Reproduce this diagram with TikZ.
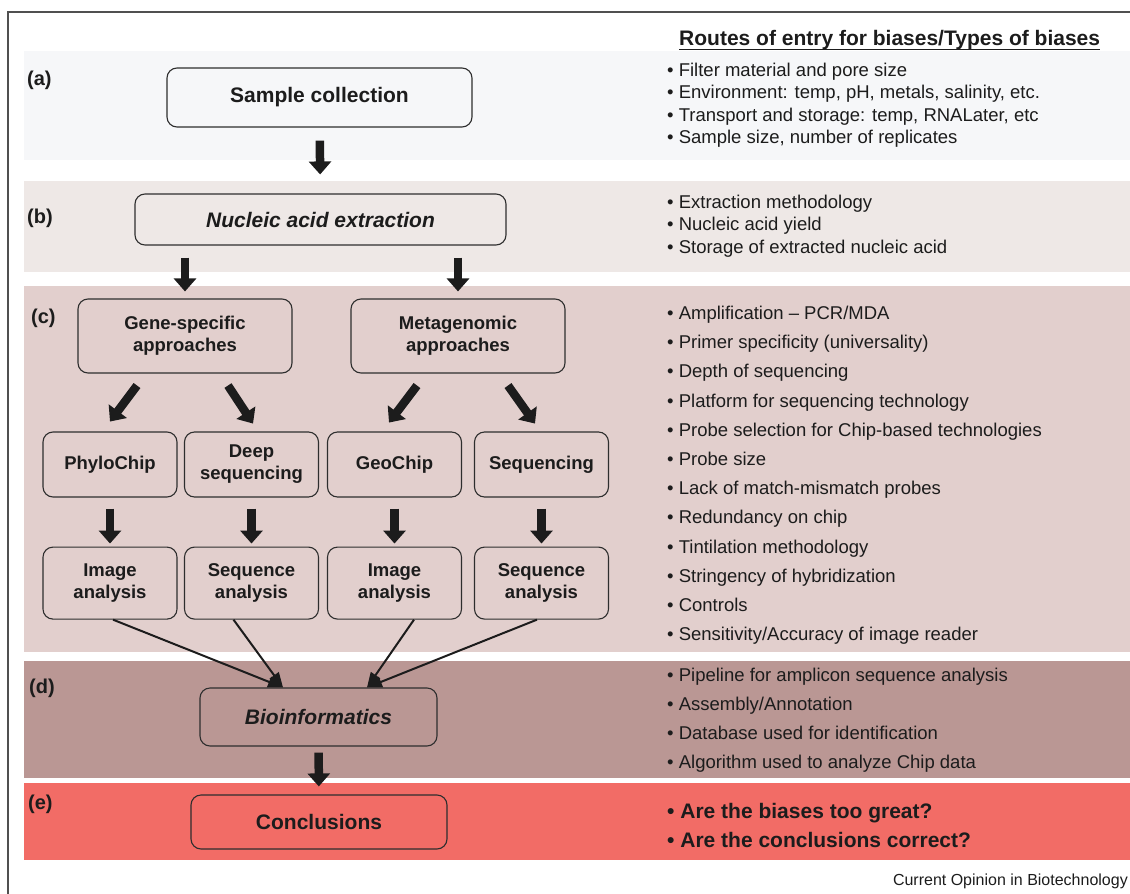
\documentclass[tikz,border=0pt]{standalone}
\usepackage{fontspec}
\setmainfont{Liberation Sans}
\usepackage{xcolor}
\usetikzlibrary{calc}
\usetikzlibrary{arrows.meta}
\usetikzlibrary{positioning}

\definecolor{bandA}{HTML}{F6F7F9}
\definecolor{bandB}{HTML}{EEE8E6}
\definecolor{bandC}{HTML}{E2CFCD}
\definecolor{bandD}{HTML}{BA9794}
\definecolor{bandE}{HTML}{F26C66}
\definecolor{ink}{HTML}{1C1C1C}
\definecolor{boxline}{HTML}{2E2E2E}
\definecolor{frameline}{HTML}{505050}

\begin{document}
\begin{tikzpicture}[x=1pt,y=-1pt]
% 1 = 1px of the reference, y runs downwards
    \def\XBAND{24}
    \def\XEND{1130}
    \def\XLIST{667} %left edge of the bias lists
    \def\XLABEL{27}

    % columns of the chip/sequencing rows
    \def\XCOLONE{110}
    \def\XCOLTWO{251.5}
    \def\XCOLTHREE{394.5}
    \def\XCOLFOUR{541.5}
    \def\YROWTWO{464.5}

    \tikzset{
      stagebox/.style={draw=boxline, line width=1.1pt, rounded corners=10pt,
        inner sep=0pt, align=center, text=ink,
        font=\bfseries\fontsize{21}{24}\selectfont},
      rowbox/.style={stagebox, minimum width=134pt,
        font=\bfseries\fontsize{18.5}{22}\selectfont},
      blockarrow/.style={-{Triangle[width=22pt,length=13pt]},
        line width=8.5pt, color=ink},
      thinarrow/.style={-{Triangle[width=11pt,length=15pt]},
        line width=2pt, color=ink},
      % anchored at the baseline of the LAST line
      biaslist/.style={anchor=base west, align=left, inner sep=0pt, text=ink,
        font=\fontsize{18.5}{22.3}\selectfont},
      panel/.style={anchor=west, inner sep=0pt, text=ink,
        font=\bfseries\fontsize{20}{22}\selectfont},
    }

    \useasboundingbox (0,0) rectangle (1130,894);

    % BANDS
    \fill[bandA] (\XBAND,51) rectangle (\XEND,160);
    \fill[bandB] (\XBAND,181) rectangle (\XEND,272);
    \fill[bandC] (\XBAND,286) rectangle (\XEND,652);
    \fill[bandD] (\XBAND,661) rectangle (\XEND,778);
    \fill[bandE] (\XBAND,783) rectangle (\XEND,860);

    % FRAME
    \draw[frameline, line width=1.5pt] (8,894) -- (8,12) -- (\XEND,12);

    % PANEL LETTERS
    \node[panel] (lblA) at (\XLABEL,80) {(a)};
    \node[panel] (lblB) at (\XLABEL,218) {(b)};
    \node[panel] (lblC) at (31,318) {(c)};
    \node[panel] (lblD) at (29,688) {(d)};
    \node[panel] (lblE) at (28,804) {(e)};

    % STAGES
    \node[stagebox, minimum width=305pt, minimum height=59pt]
        (sample) at (319.5,97.5) {Sample collection};
    \node[stagebox, minimum width=371pt, minimum height=51pt]
        (nucleic) at (320.5,219.5) {\textit{Nucleic acid extraction}};

    \node[rowbox, minimum width=214pt, minimum height=74pt]
        (gene) at (185,336) {Gene-specific\\approaches};
    \node[rowbox, minimum width=214pt, minimum height=74pt]
        (meta) at (458,336) {Metagenomic\\approaches};

    \node[rowbox, minimum height=65pt] (phylo) at (\XCOLONE,\YROWTWO) {PhyloChip};
    \node[rowbox, minimum height=65pt] (deep) at (\XCOLTWO,\YROWTWO) {Deep\\sequencing};
    \node[rowbox, minimum height=65pt] (geo) at (\XCOLTHREE,\YROWTWO) {GeoChip};
    \node[rowbox, minimum height=65pt] (seqg) at (\XCOLFOUR,\YROWTWO) {Sequencing};

    \node[rowbox, minimum height=72pt, below=49pt of phylo] (imgA) {Image\\analysis};
    \node[rowbox, minimum height=72pt, below=49pt of deep] (seqA) {Sequence\\analysis};
    \node[rowbox, minimum height=72pt, below=49pt of geo] (imgB) {Image\\analysis};
    \node[rowbox, minimum height=72pt, below=49pt of seqg] (seqB) {Sequence\\analysis};

    \node[stagebox, minimum width=237pt, minimum height=58pt]
        (bioinf) at (318.5,717) {\textit{Bioinformatics}};
    \node[stagebox, minimum width=256pt, minimum height=54pt]
        (concl) at (319,822) {Conclusions};

    % BLOCK ARROWS
    \draw[blockarrow, shorten <=13pt, shorten >=19pt] (sample) -- (nucleic);
    \draw[blockarrow, shorten <=12pt, shorten >=7pt]
        (gene.north |- nucleic.south) -- (gene.north);
    \draw[blockarrow, shorten <=12pt, shorten >=7pt]
        (meta.north |- nucleic.south) -- (meta.north);

    \draw[blockarrow] ($(gene.south)+(-48,12)$) -- ($(gene.south)+(-75,48)$);
    \draw[blockarrow] ($(gene.south)+(43,12)$) -- ($(gene.south)+(68,50)$);
    \draw[blockarrow] ($(meta.south)+(-41,12)$) -- ($(meta.south)+(-69,49)$);
    \draw[blockarrow] ($(meta.south)+(50,12)$) -- ($(meta.south)+(77,50)$);

    \draw[blockarrow, shorten <=11pt, shorten >=3pt] (phylo) -- (imgA);
    \draw[blockarrow, shorten <=11pt, shorten >=3pt] (deep) -- (seqA);
    \draw[blockarrow, shorten <=11pt, shorten >=3pt] (geo) -- (imgB);
    \draw[blockarrow, shorten <=11pt, shorten >=3pt] (seqg) -- (seqB);

    \draw[blockarrow, shorten <=6pt, shorten >=8pt] (bioinf) -- (concl);

    % INTO BIOINFORMATICS
    \draw[thinarrow] ([xshift=3pt]imgA.south) -- ([xshift=-35.5pt]bioinf.north);
    \draw[thinarrow] ([xshift=-18pt]seqA.south) -- ([xshift=-35.5pt]bioinf.north);
    \draw[thinarrow] ([xshift=19.5pt]imgB.south) -- ([xshift=48.5pt]bioinf.north);
    \draw[thinarrow] ([xshift=-4.5pt]seqB.south) -- ([xshift=48.5pt]bioinf.north);

    % BIAS LISTS
    \node[anchor=base west, inner sep=0pt, text=ink,
        font=\bfseries\fontsize{21}{24}\selectfont]
        (header) at (679,45.5) {Routes of entry for biases/Types of biases};
    \draw[ink, line width=1.5pt]
        ([yshift=-4pt]header.base west) -- ([yshift=-4pt]header.base east);

    \node[biaslist] (listA) at (\XLIST,143.4) {%
        \textbullet{} Filter material and pore size\\
        \textbullet{} Environment: temp, pH, metals, salinity, etc.\\
        \textbullet{} Transport and storage: temp, RNALater, etc\\
        \textbullet{} Sample size, number of replicates};
    \node[biaslist] (listB) at (\XLIST,253) {%
        \textbullet{} Extraction methodology\\
        \textbullet{} Nucleic acid yield\\
        \textbullet{} Storage of extracted nucleic acid};
    \node[biaslist, font=\fontsize{18.5}{29.2}\selectfont] (listC) at (\XLIST,640.7) {%
        \textbullet{} Amplification – PCR/MDA\\
        \textbullet{} Primer specificity (universality)\\
        \textbullet{} Depth of sequencing\\
        \textbullet{} Platform for sequencing technology\\
        \textbullet{} Probe selection for Chip-based technologies\\
        \textbullet{} Probe size\\
        \textbullet{} Lack of match-mismatch probes\\
        \textbullet{} Redundancy on chip\\
        \textbullet{} Tintilation methodology\\
        \textbullet{} Stringency of hybridization\\
        \textbullet{} Controls\\
        \textbullet{} Sensitivity/Accuracy of image reader};
    \node[biaslist, font=\fontsize{18.5}{29}\selectfont] (listD) at (\XLIST,768.5) {%
        \textbullet{} Pipeline for amplicon sequence analysis\\
        \textbullet{} Assembly/Annotation\\
        \textbullet{} Database used for identification\\
        \textbullet{} Algorithm used to analyze Chip data};
    \node[biaslist, font=\bfseries\fontsize{21}{29}\selectfont] (listE) at (\XLIST,847.5) {%
        \textbullet{} Are the biases too great?\\
        \textbullet{} Are the conclusions correct?};

    \node[anchor=base east, inner sep=0pt, text=ink, font=\fontsize{16}{18}\selectfont]
        (credit) at (1128,885.5) {Current Opinion in Biotechnology};

\end{tikzpicture}
\end{document}
